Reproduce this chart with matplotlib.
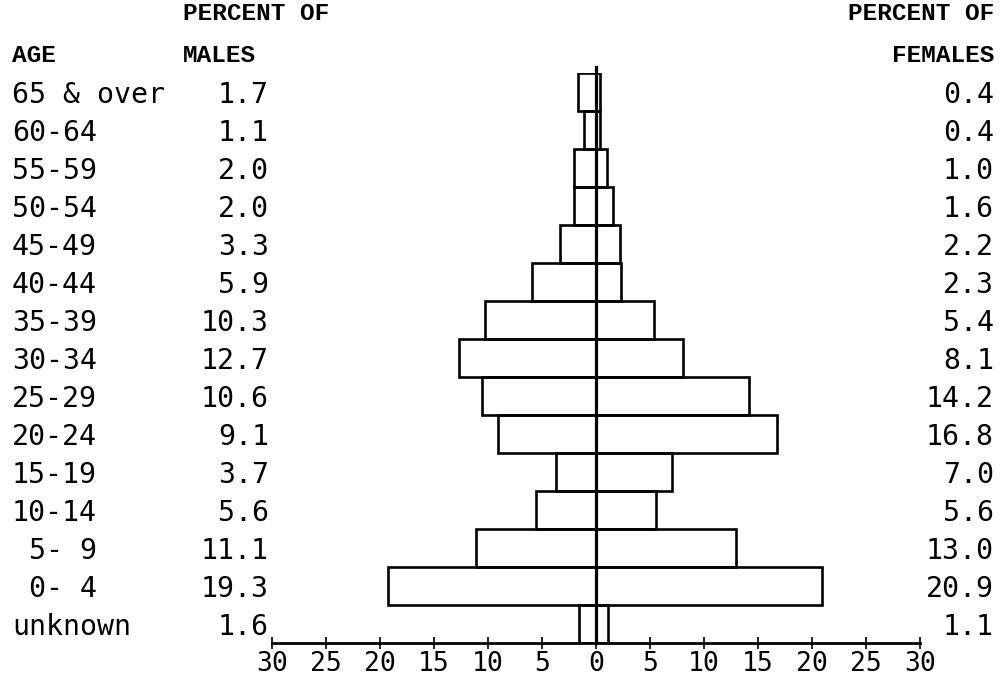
import numpy as np
import matplotlib
matplotlib.use("Agg")
import matplotlib.pyplot as plt
from matplotlib.transforms import blended_transform_factory
from matplotlib.ticker import FuncFormatter

# Age groups from oldest (top) to unknown (bottom), percent of each sex.
ages = ["65 & over", "60-64", "55-59", "50-54", "45-49", "40-44", "35-39",
        "30-34", "25-29", "20-24", "15-19", "10-14", " 5- 9", " 0- 4", "unknown"]
males = [1.7, 1.1, 2.0, 2.0, 3.3, 5.9, 10.3, 12.7, 10.6, 9.1, 3.7, 5.6, 11.1, 19.3, 1.6]
females = [0.4, 0.4, 1.0, 1.6, 2.2, 2.3, 5.4, 8.1, 14.2, 16.8, 7.0, 5.6, 13.0, 20.9, 1.1]
ticks = np.arange(-30, 31, 5)

LABEL_FONT = "DejaVu Sans Mono"
HEAD_FONT = "Liberation Mono"
W, H = 1008, 684

fig = plt.figure(figsize=(W / 100, H / 100), dpi=100)
fig.patch.set_facecolor("white")
# axes placed so that -30..30 spans the drawn baseline
ax = fig.add_axes([272 / W, 1 - 643 / H, 648 / W, 570 / H])
ax.set_facecolor("white")

n = len(ages)
ypos = np.arange(n)[::-1]  # top row = oldest
ax.barh(ypos, [-m for m in males], height=1.0, left=0, facecolor="none",
        edgecolor="black", linewidth=1.9, zorder=3)
ax.barh(ypos, females, height=1.0, left=0, facecolor="none",
        edgecolor="black", linewidth=1.9, zorder=3)

# centre line runs a little above the top bar
ax.plot([0, 0], [-0.5, n - 0.35], color="black", linewidth=2.3, zorder=4,
        clip_on=False)

ax.set_xlim(-30, 30)
ax.set_ylim(-0.5, n - 0.5)
ax.set_xticks(ticks)
ax.xaxis.set_major_formatter(FuncFormatter(lambda v, p: f"{abs(int(v))}"))
ax.set_yticks([])
for s in ("top", "left", "right"):
    ax.spines[s].set_visible(False)
ax.spines["bottom"].set_linewidth(2.0)
ax.tick_params(axis="x", direction="inout", length=8, width=1.2, pad=2,
               labelsize=19)
for lab in ax.get_xticklabels():
    lab.set_fontfamily(LABEL_FONT)

# text columns to the left and right of the pyramid
tr = blended_transform_factory(fig.transFigure, ax.transData)
for y, a, m, f in zip(ypos, ages, males, females):
    fig.text(12 / W, y - 0.08, a, transform=tr, ha="left", va="center",
             fontsize=20.3, family=LABEL_FONT)
    fig.text(269 / W, y - 0.08, f"{m:.1f}", transform=tr, ha="right",
             va="center", fontsize=20.3, family=LABEL_FONT)
    fig.text(994 / W, y - 0.08, f"{f:.1f}", transform=tr, ha="right",
             va="center", fontsize=20.3, family=LABEL_FONT)

# headers
fig.text(183 / W, 1 - 14 / H, "PERCENT OF", ha="left", va="center",
         fontsize=17.6, family=HEAD_FONT, fontweight="bold")
fig.text(12 / W, 1 - 55 / H, "AGE", ha="left", va="center",
         fontsize=17.6, family=HEAD_FONT, fontweight="bold")
fig.text(183 / W, 1 - 55 / H, "MALES", ha="left", va="center",
         fontsize=17.6, family=HEAD_FONT, fontweight="bold")
fig.text(994 / W, 1 - 14 / H, "PERCENT OF", ha="right", va="center",
         fontsize=17.6, family=HEAD_FONT, fontweight="bold")
fig.text(994 / W, 1 - 55 / H, "FEMALES", ha="right", va="center",
         fontsize=17.6, family=HEAD_FONT, fontweight="bold")

fig.savefig("out.png", dpi=100, facecolor="white")
